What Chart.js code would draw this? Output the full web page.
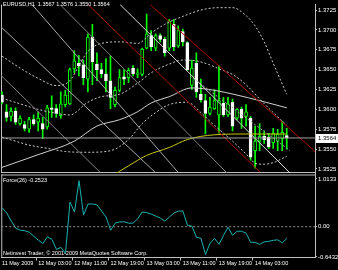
<!DOCTYPE html>
<html>
<head>
<meta charset="utf-8">
<script src="https://cdn.jsdelivr.net/npm/chart.js@4.4.1/dist/chart.umd.min.js"></script>
<style>
  html, body { margin: 0; padding: 0; background: #000; }
  #wrap { position: relative; width: 338px; height: 270px; background: #000; overflow: hidden; }
  #wrap canvas { position: absolute; left: 0; top: 0; }
</style>
</head>
<body>
<div id="wrap">
  <canvas id="priceChart" width="338" height="270"></canvas>
  <canvas id="forceChart" width="338" height="270"></canvas>
</div>
<script>
// EURUSD H1 candles, 11 May 19:00 .. 14 May 10:00
const opens = [1.3618,1.3597,1.3591,1.3598,1.3582,1.3581,1.3575,1.3587,1.3584,1.3582,
  1.3578,1.3602,1.3601,1.3592,1.3606,1.3607,1.3651,1.3658,1.3656,1.3638,
  1.3691,1.3657,1.3650,1.3644,1.3636,1.3606,1.3624,1.3641,1.3640,1.3652,
  1.3644,1.3644,1.3677,1.3693,1.3677,1.3693,1.3688,1.3677,1.3707,1.3680,
  1.3698,1.3684,1.3630,1.3658,1.3619,1.3611,1.3595,1.3601,1.3593,1.3608,
  1.3593,1.3609,1.3589,1.3600,1.3591,1.3589,1.3548,1.3560,1.3566,1.3565,
  1.3558,1.3560,1.3563,1.3567];
const highs = [1.3622,1.3606,1.3602,1.3602,1.3592,1.3585,1.3590,1.3593,1.3597,1.3590,
  1.3605,1.3617,1.3606,1.3622,1.3624,1.3652,1.3674,1.3668,1.3662,1.3695,
  1.3707,1.3671,1.3658,1.3664,1.3667,1.3628,1.3650,1.3650,1.3652,1.3655,
  1.3651,1.3677,1.3720,1.3699,1.3695,1.3695,1.3691,1.3713,1.3713,1.3705,
  1.3701,1.3685,1.3662,1.3671,1.3638,1.3619,1.3615,1.3625,1.3655,1.3615,
  1.3615,1.3613,1.3601,1.3603,1.3606,1.3591,1.3579,1.3582,1.3573,1.3570,
  1.3576,1.3575,1.3585,1.3576];
const lows = [1.3607,1.3585,1.3585,1.3581,1.3580,1.3573,1.3571,1.3580,1.3573,1.3563,
  1.3575,1.3590,1.3590,1.3589,1.3603,1.3606,1.3646,1.3642,1.3631,1.3622,
  1.3631,1.3636,1.3640,1.3622,1.3601,1.3603,1.3622,1.3631,1.3634,1.3642,
  1.3640,1.3642,1.3676,1.3674,1.3674,1.3685,1.3667,1.3674,1.3674,1.3678,
  1.3680,1.3649,1.3625,1.3615,1.3609,1.3569,1.3593,1.3600,1.3570,1.3591,
  1.3591,1.3573,1.3587,1.3576,1.3579,1.3536,1.3526,1.3548,1.3557,1.3551,
  1.3551,1.3548,1.3548,1.3550];
const closes = [1.3609,1.3590,1.3598,1.3584,1.3589,1.3576,1.3587,1.3582,1.3589,1.3575,
  1.3602,1.3600,1.3595,1.3607,1.3618,1.3650,1.3661,1.3655,1.3640,1.3691,
  1.3660,1.3650,1.3645,1.3636,1.3615,1.3624,1.3640,1.3638,1.3649,1.3645,
  1.3646,1.3676,1.3695,1.3679,1.3693,1.3688,1.3671,1.3711,1.3679,1.3699,
  1.3685,1.3650,1.3652,1.3622,1.3612,1.3595,1.3603,1.3611,1.3611,1.3593,
  1.3607,1.3579,1.3600,1.3589,1.3597,1.3540,1.3560,1.3566,1.3562,1.3553,
  1.3570,1.3569,1.3571,1.3564];
const bid = 1.3564;

// bollinger bands at some bars
const bbUpperBars = [0,4,8,12,15,17,19,22,26,30,33,36,40,44,48,51,54,56,58,60,63];
const bbUpper = [1.3667,1.3652,1.3639,1.3630,1.3636,1.3655,1.3673,1.3683,1.3685,1.3683,1.3696,
  1.3707,1.3717,1.3725,1.3728,1.3728,1.3718,1.3705,1.3685,1.3658,1.3619];
const bbMiddleBars = [0,4,8,12,15,19,22,26,30,33,37,40,43,46,48,51,54,57,60,63];
const bbMiddle = [1.3614,1.3607,1.3600,1.3595,1.3593,1.3609,1.3616,1.3619,1.3633,1.3646,
  1.3657,1.3662,1.3661,1.3656,1.3651,1.3644,1.3631,1.3613,1.3596,1.3580];
const bbLowerBars = [0,3,6,10,14,19,24,28,31,34,37,41,44,46,51,55,56,58,60,63];
const bbLower = [1.3565,1.3560,1.3555,1.3551,1.3547,1.3546,1.3548,1.3562,1.3582,1.3596,
  1.3606,1.3609,1.3596,1.3585,1.3560,1.3538,1.3532,1.3531,1.3533,1.3541];

// moving averages
const maBars = [0,8,16,21,26,30,33,37,42,47,52,57,63];
const ma = [1.3527,1.3543,1.3560,1.3579,1.3587,1.3597,1.3608,1.3616,1.3627,1.3624,1.3618,1.3611,1.3602];
const slowMaBars = [24,28,32,37,41,47,54,63];
const slowMa = [1.3515,1.3529,1.3542,1.3552,1.3562,1.3568,1.3569,1.3569];

// drawn objects: [bar1, price1, bar2, price2]
const greyLines = [[-0.44,1.3644,21.68,1.3521],[-0.44,1.3705,33.85,1.3521],[6.64,1.3732,38.94,1.3521],
  [12.83,1.3732,49.78,1.3520],[26.11,1.3732,63.72,1.3520]];
const redLines = [[19.03,1.3732,57.08,1.3521],[32.74,1.3732,69.47,1.3546]];
const channelMid = [41.59,1.3642,63.72,1.3548];

const priceTicks = [1.3525,1.3550,1.3575,1.3600,1.3625,1.3650,1.3675,1.3700,1.3725];

// Force(26)
const forceValues = [0.397,0.289,0.118,-0.032,-0.075,-0.086,-0.118,-0.204,-0.289,-0.354,
  -0.214,-0.268,-0.482,-0.440,-0.568,0.525,0.311,0.976,0.247,0.482,
  0.482,0.461,0.332,0.204,-0.075,0.075,0.103,0.103,0.075,0.075,
  0.172,0.311,0.300,0.268,0.225,0.182,0.118,0.204,0.289,0.332,
  0.332,0.032,0.011,-0.225,-0.247,-0.590,-0.354,-0.247,-0.375,-0.182,
  -0.011,-0.182,-0.096,-0.096,-0.139,-0.332,-0.332,-0.375,-0.322,-0.311,
  -0.289,-0.279,-0.343,-0.2523];
const forceTicks = [1.0133, 0, -0.6432];
const forceTickLabels = ['1.0133', '0.00', '-0.6432'];

const dateTickBars = [0, 8, 16, 24, 32, 40, 48, 56];
const dateLabels = ['11 May 2009', '12 May 03:00', '12 May 11:00', '12 May 19:00',
  '13 May 03:00', '13 May 11:00', '13 May 19:00', '14 May 03:00'];

const X_MIN = -0.22, X_MAX = 69.25;
const GREEN = '#00ff00', FG = '#ffffff', FRAME = '#c0c0c0';
Chart.defaults.font.family = 'Liberation Sans';

function pts(xs, ys) { return xs.map((x, i) => ({x: x, y: ys[i]})); }
function seg(l) { return [{x: l[0], y: l[1]}, {x: l[2], y: l[3]}]; }
function line(data, color, extra) {
  return Object.assign({type: 'line', data: data, borderColor: color, borderWidth: 1,
    pointRadius: 0, fill: false, order: 2}, extra || {});
}

const frame = {
  id: 'frame',
  beforeDatasetsDraw(chart, args, opts) {
    const a = chart.chartArea, ctx = chart.ctx;
    ctx.save();
    ctx.strokeStyle = FRAME;
    ctx.lineWidth = 1;
    ctx.beginPath();
    (opts.sides || []).forEach(s => {
      if (s === 'left') { ctx.moveTo(a.left + 0.5, a.top); ctx.lineTo(a.left + 0.5, a.bottom); }
      if (s === 'bottom') { ctx.moveTo(a.left, a.bottom - 0.5); ctx.lineTo(a.right, a.bottom - 0.5); }
      if (s === 'top') { ctx.moveTo(a.left, a.top + 0.5); ctx.lineTo(a.right, a.top + 0.5); }
    });
    ctx.stroke();
    ctx.restore();
  }
};

const captions = {
  id: 'captions',
  afterDraw(chart, args, opts) {
    const ctx = chart.ctx;
    ctx.save();
    ctx.textBaseline = 'top';
    ctx.font = '5.5px "Liberation Sans"';
    (opts.items || []).forEach(it => {
      ctx.fillStyle = it.color || FG;
      ctx.fillText(it.text, it.x, it.y);
    });
    if (opts.bid !== undefined) {
      const y = chart.scales.y.getPixelForValue(opts.bid);
      ctx.fillStyle = '#ffffff';
      ctx.fillRect(316, Math.round(y) - 4, 22, 9);
      ctx.fillStyle = '#000000';
      ctx.font = '6px "Liberation Sans"';
      ctx.textBaseline = 'middle';
      ctx.fillText(opts.bid.toFixed(4), 318, Math.round(y) + 0.5);
    }
    ctx.restore();
  }
};

const dotted = {borderDash: [2, 2], cubicInterpolationMode: 'monotone'};

new Chart(document.getElementById('priceChart'), {
  type: 'bar',
  data: {
    datasets: [
      line([{x: X_MIN, y: bid}, {x: X_MAX, y: bid}], '#a0a0a0', {order: 0}),
      ...greyLines.map((l, i) => line(seg(l), i === 4 ? '#d8d8d8' : (i % 3 === 0 ? '#808080' : '#a8a8a8'), {order: 1})),
      ...redLines.map(l => line(seg(l), '#b00000', {order: 1})),
      line(seg(channelMid), '#a0a0a0', {borderDash: [2, 2], order: 1}),
      line(pts(bbUpperBars, bbUpper), '#c8c8c8', dotted),
      line(pts(bbMiddleBars, bbMiddle), '#c8c8c8', dotted),
      line(pts(bbLowerBars, bbLower), '#c8c8c8', dotted),
      line(pts(maBars, ma), '#d0d0d0', {cubicInterpolationMode: 'monotone'}),
      line(pts(slowMaBars, slowMa), '#c8c800', {cubicInterpolationMode: 'monotone'}),
      {
        data: opens.map((o, i) => ({x: i, y: [o, closes[i]]})),
        backgroundColor: c => closes[c.dataIndex] >= opens[c.dataIndex] ? '#000000' : '#ffffff',
        borderColor: c => closes[c.dataIndex] >= opens[c.dataIndex] ? GREEN : '#ffffff',
        borderWidth: 1, borderSkipped: false, barThickness: 3, grouped: false, order: 3
      },
      {
        data: lows.map((l, i) => ({x: i, y: [l, highs[i]]})),
        backgroundColor: GREEN, borderWidth: 0, barThickness: 1, grouped: false, order: 4
      }
    ]
  },
  options: {
    responsive: false, animation: false, events: [],
    layout: {padding: {left: 1, top: 0, right: 0, bottom: 97}},
    plugins: {
      legend: {display: false}, tooltip: {enabled: false},
      frame: {sides: ['left', 'bottom']},
      captions: {
        items: [{text: 'EURUSD,H1  1.3567 1.3576 1.3550 1.3564', x: 3, y: 2}],
        bid: bid
      }
    },
    scales: {
      x: {type: 'linear', min: X_MIN, max: X_MAX, offset: false, display: false},
      y: {
        position: 'right', min: 1.351993, max: 1.373185, beginAtZero: false,
        afterFit: s => { s.width = 23; },
        afterBuildTicks: s => { s.ticks = priceTicks.map(v => ({value: v})); },
        ticks: {color: FG, padding: 1, font: {size: 6}, callback: v => v.toFixed(4)},
        grid: {drawOnChartArea: false, color: FRAME, tickLength: 2},
        border: {color: FRAME}
      }
    }
  },
  plugins: [frame, captions]
});

new Chart(document.getElementById('forceChart'), {
  type: 'line',
  data: {
    datasets: [
      line([{x: X_MIN, y: 0}, {x: X_MAX, y: 0}], '#909090', {borderDash: [2, 2]}),
      line(forceValues.map((v, i) => ({x: i, y: v})), '#1ab0b0')
    ]
  },
  options: {
    responsive: false, animation: false, events: [],
    layout: {padding: {left: 1, top: 174.5, right: 0, bottom: 0}},
    plugins: {
      legend: {display: false}, tooltip: {enabled: false},
      frame: {sides: ['left', 'top']},
      captions: {
        items: [
          {text: 'Force(26) -0.2523', x: 3, y: 178},
          {text: 'Netinvest Trader, \u00a9 2001-2009 MetaQuotes Software Corp.', x: 3, y: 251}
        ]
      }
    },
    scales: {
      x: {
        type: 'linear', min: X_MIN, max: X_MAX, offset: false,
        afterFit: s => { s.height = 12.5; },
        afterBuildTicks: s => { s.ticks = dateTickBars.map(b => ({value: b - 0.5})); },
        ticks: {color: FG, font: {size: 5.5}, padding: 0, align: 'start', labelOffset: 2,
          maxRotation: 0, minRotation: 0, autoSkip: false, callback: (v, i) => dateLabels[i]},
        grid: {drawOnChartArea: false, tickLength: 3,
          color: c => c.index === 0 ? 'rgba(0,0,0,0)' : FRAME},
        border: {color: FRAME}
      },
      y: {
        position: 'right', min: -0.6541, max: 1.1086,
        afterFit: s => { s.width = 23; },
        afterBuildTicks: s => { s.ticks = forceTicks.map(v => ({value: v})); },
        ticks: {color: FG, padding: 1, font: {size: 6}, callback: (v, i) => forceTickLabels[i]},
        grid: {drawOnChartArea: false, color: FRAME, tickLength: 2},
        border: {color: FRAME}
      }
    }
  },
  plugins: [frame, captions]
});
</script>
</body>
</html>
